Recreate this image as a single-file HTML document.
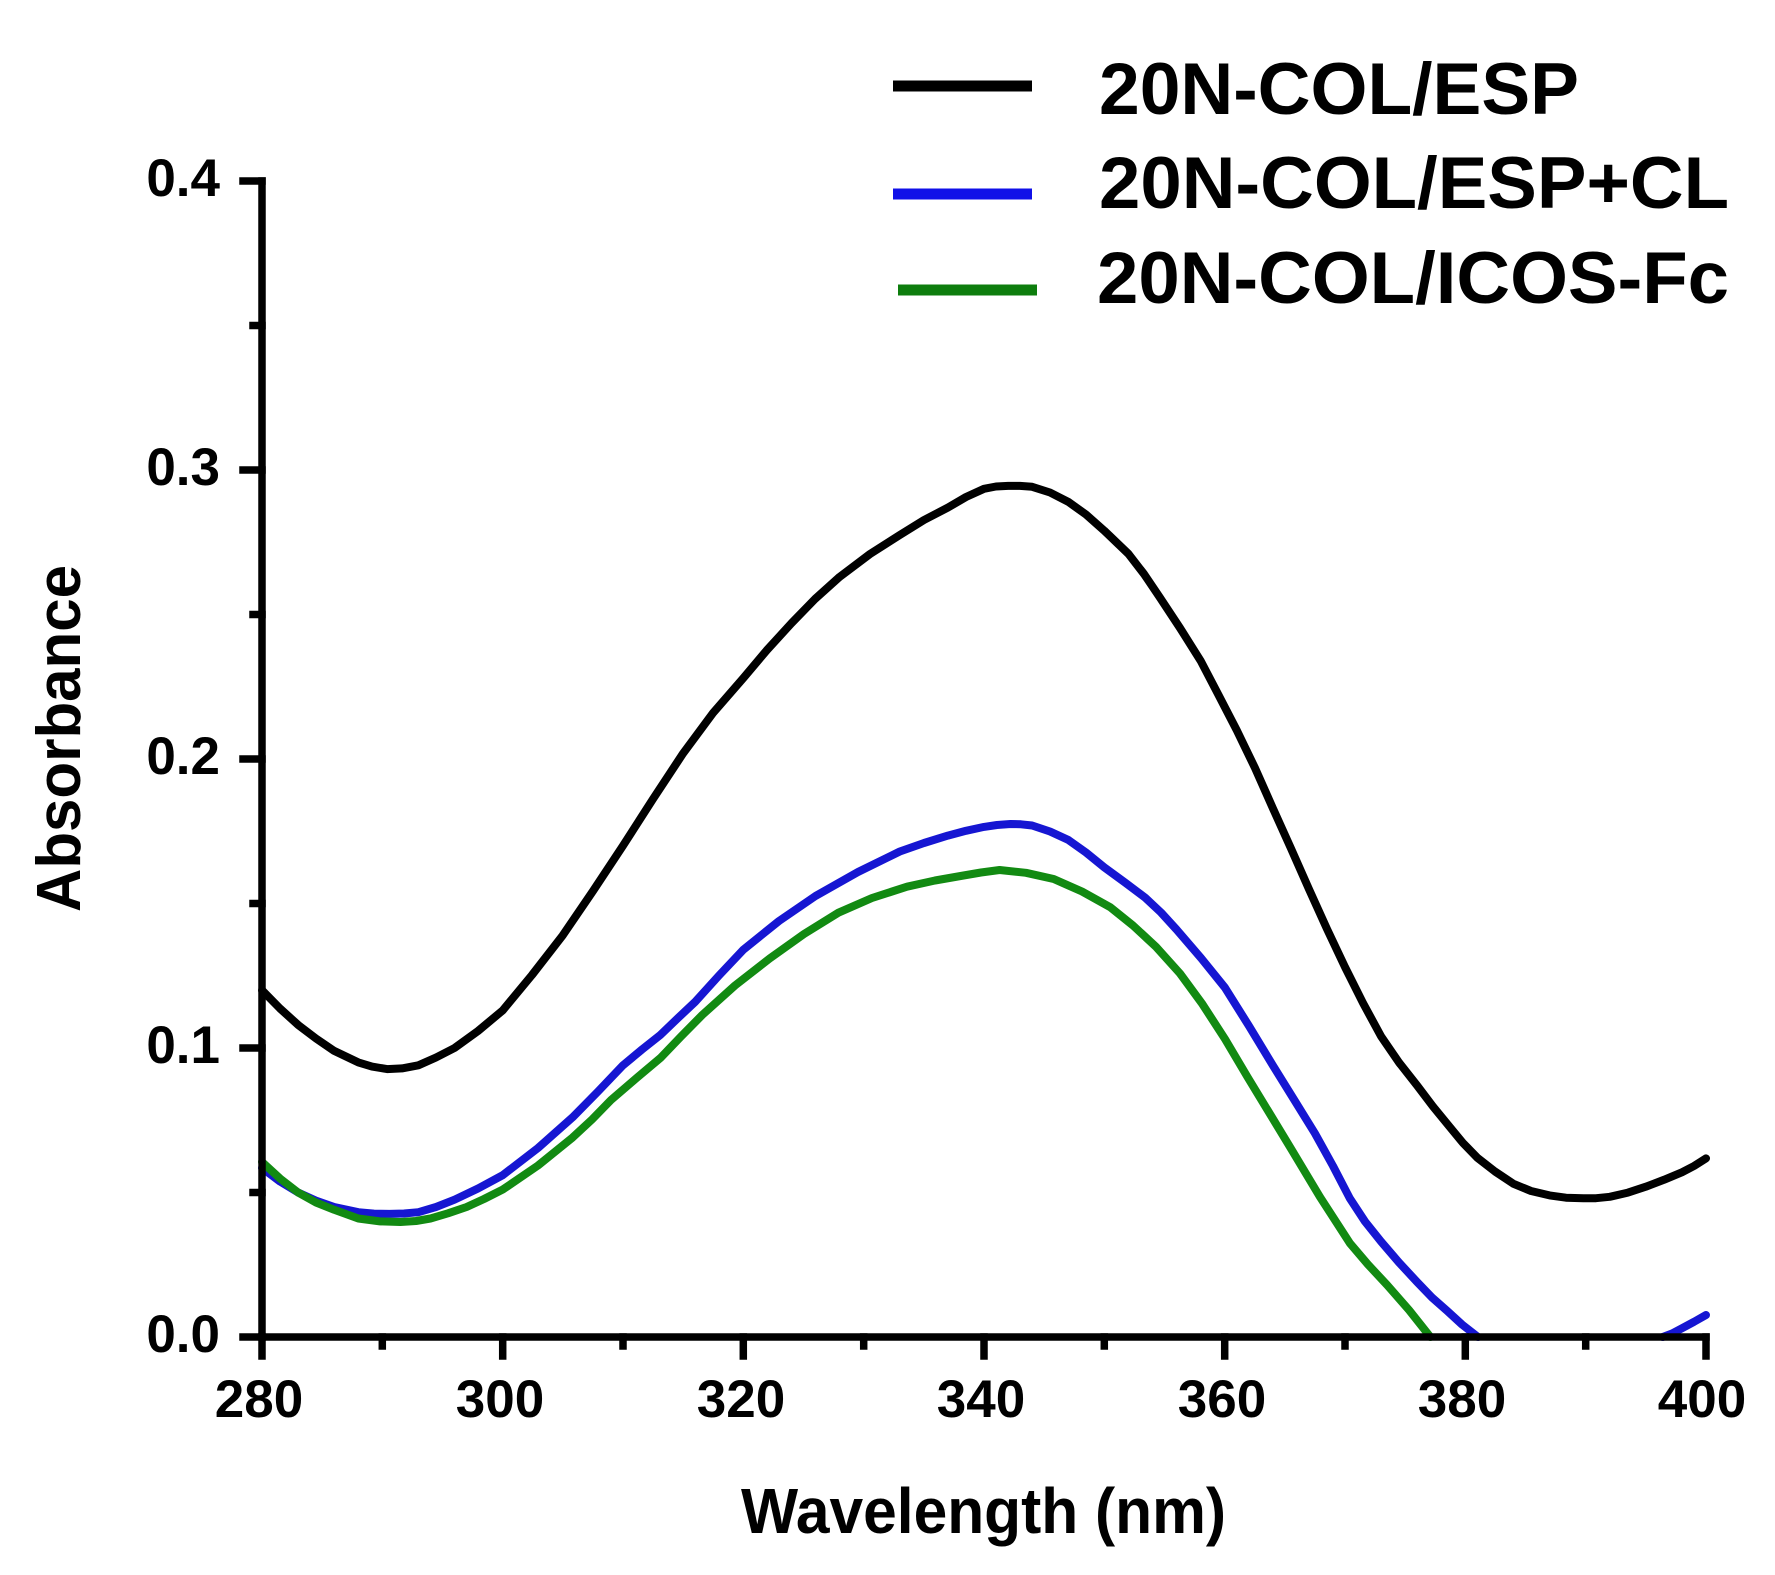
<!DOCTYPE html>
<html>
<head>
<meta charset="utf-8">
<style>
  html, body { margin: 0; padding: 0; background: #ffffff; }
  body { width: 1775px; height: 1575px; overflow: hidden; }
  svg { display: block; }
  text { font-family: "Liberation Sans", Arial, sans-serif; font-weight: bold; fill: #000; }
</style>
</head>
<body>
<svg width="1775" height="1575" viewBox="0 0 1775 1575" xmlns="http://www.w3.org/2000/svg">
  <rect x="0" y="0" width="1775" height="1575" fill="#ffffff"/>

  <!-- Curves -->
  <g fill="none" stroke-linejoin="round" stroke-linecap="round">
    <polyline stroke="#000000" stroke-width="8" points="
      262,990.2 280,1008.5 298.1,1024.9 316,1038.5 334.2,1050.9 358.3,1062.4 372,1066.6 387.1,1069.1 402,1068.4 418.4,1065.3 436,1057.5 454.5,1048
      478,1031 502.7,1010.4 532,975 562.8,935.3 593,891 623,845.7 653,799 683.2,753.2 713,713 743.3,678.1 767,650 791.5,623.2 815,599 839.6,576.9
      870,554 899.8,535 924,520 947.9,507.6 966,497 984,488.8 996,486.5 1008.1,485.9 1020,485.9 1032.1,486.8 1050,492.5 1068.2,501.8 1086,514.5 1104.3,530.7
      1128.4,553.8 1144,574 1159.7,597.2 1180,628 1200.6,660.7 1218,694 1236.7,730.1 1255,768 1272.8,808.1 1291,848.5 1308.9,889 1327,929 1345,967.1
      1363,1003 1381.1,1036.4 1399,1062.5 1417.2,1085.6 1433,1106.5 1449.7,1126.9 1463,1143 1477.4,1157.8 1495,1171.5 1513.5,1183.8 1531,1191 1549.6,1195.4
      1566,1197.7 1583.3,1198.3 1596,1198.2 1609.8,1196.8 1628,1192.6 1645.8,1186.7 1664,1179.8 1681.9,1172.3 1694,1166 1706,1158.4"/>
    <polyline stroke="#1616d2" stroke-width="8" points="
      262,1167.9 280,1181.5 298.1,1192.5 316,1200.6 334.2,1207 358.3,1212.2 374,1213.6 389.6,1213.9 404,1213.5 418.4,1212.2 436,1207 454.5,1199.7
      478,1188.5 502.7,1175.2 538,1148 572.5,1117.4 598,1091.5 623,1065.3 642,1049.5 660.3,1035 678,1018 695.2,1001.8 719,975.5 743.3,949.7 779,921 815.5,896
      858,872 899.8,851.5 924,843 947.9,835.6 966,830.8 984,826.9 997,825 1010.5,824 1021,824.3 1032.1,825.5 1050,831.5 1068.2,839.9 1086,852.5 1104.3,867.4
      1125,882.5 1145.2,897.7 1161,912.5 1176.5,929.5 1201,958 1224.7,987.3 1249,1026 1272.8,1065.3 1294,1099.5 1314.9,1133.3 1333,1166 1349.8,1198.3
      1365,1221.5 1381.1,1241.6 1399,1262.5 1417.2,1282.1 1432,1297.5 1447.3,1311 1462,1324.5 1478,1337"/>
    <polyline stroke="#1616d2" stroke-width="8" points="1662.7,1337 1672,1333.5 1681.9,1328.3 1694,1321.8 1706,1315"/>
    <polyline stroke="#128a12" stroke-width="8" points="
      262,1161.9 280,1178.5 298.1,1192.5 316,1202.5 334.2,1209.8 358.3,1218.5 380,1221.4 400.4,1222 416,1221 430.5,1218.5 448,1213.3 466.6,1207
      484,1199 502.7,1189.6 538,1165.5 572.5,1137.6 592,1119.5 611,1100 636,1078.5 660.3,1058.1 681,1036.5 702.4,1014.8 735,985.5 769.8,958.4 804,934 838.4,912.7
      872,898 907,886.7 935,880.5 963.5,875.5 981,872.5 999.6,870 1026,872.8 1053.7,879 1082,891.5 1110.3,907.3 1133,925.5 1156,946.8 1180,973.5 1201.8,1003.2
      1225,1039 1247.5,1077 1270,1114 1292,1150.3 1320,1197 1349.8,1243.1 1368,1264.5 1387.1,1285 1409,1310 1430.4,1337"/>
  </g>

  <!-- Axes -->
  <g stroke="#000" stroke-width="7.5" fill="none" stroke-linecap="square">
    <line x1="262" y1="181" x2="262" y2="1337"/>
    <line x1="262" y1="1337" x2="1706" y2="1337"/>
    <!-- y major ticks -->
    <line x1="243" y1="1337" x2="262" y2="1337"/>
    <line x1="243" y1="1048" x2="262" y2="1048"/>
    <line x1="243" y1="759" x2="262" y2="759"/>
    <line x1="243" y1="470" x2="262" y2="470"/>
    <line x1="243" y1="181" x2="262" y2="181"/>
    <!-- y minor ticks -->
    <line x1="253" y1="1192.5" x2="262" y2="1192.5"/>
    <line x1="253" y1="903.5" x2="262" y2="903.5"/>
    <line x1="253" y1="614.5" x2="262" y2="614.5"/>
    <line x1="253" y1="325.5" x2="262" y2="325.5"/>
    <!-- x major ticks -->
    <line x1="262" y1="1337" x2="262" y2="1356"/>
    <line x1="502.7" y1="1337" x2="502.7" y2="1356"/>
    <line x1="743.3" y1="1337" x2="743.3" y2="1356"/>
    <line x1="984" y1="1337" x2="984" y2="1356"/>
    <line x1="1224.7" y1="1337" x2="1224.7" y2="1356"/>
    <line x1="1465.3" y1="1337" x2="1465.3" y2="1356"/>
    <line x1="1706" y1="1337" x2="1706" y2="1356"/>
    <!-- x minor ticks -->
    <line x1="382.3" y1="1337" x2="382.3" y2="1346"/>
    <line x1="623" y1="1337" x2="623" y2="1346"/>
    <line x1="863.7" y1="1337" x2="863.7" y2="1346"/>
    <line x1="1104.3" y1="1337" x2="1104.3" y2="1346"/>
    <line x1="1345" y1="1337" x2="1345" y2="1346"/>
    <line x1="1585.7" y1="1337" x2="1585.7" y2="1346"/>
  </g>

  <!-- Y tick labels -->
  <g font-size="53" text-anchor="end">
    <text x="220" y="1352">0.0</text>
    <text x="220" y="1063">0.1</text>
    <text x="220" y="774">0.2</text>
    <text x="220" y="485">0.3</text>
    <text x="220" y="196">0.4</text>
  </g>

  <!-- X tick labels -->
  <g font-size="53" text-anchor="middle">
    <text x="259" y="1417">280</text>
    <text x="500" y="1417">300</text>
    <text x="741" y="1417">320</text>
    <text x="981" y="1417">340</text>
    <text x="1222" y="1417">360</text>
    <text x="1462" y="1417">380</text>
    <text x="1702" y="1417">400</text>
  </g>

  <!-- Axis titles -->
  <text x="741" y="1533" font-size="64" textLength="485" lengthAdjust="spacingAndGlyphs">Wavelength (nm)</text>
  <text transform="translate(80,912) rotate(-90)" x="0" y="0" font-size="62" textLength="347" lengthAdjust="spacingAndGlyphs">Absorbance</text>

  <!-- Legend -->
  <rect x="893" y="80.5" width="139" height="11" fill="#000000"/>
  <rect x="893" y="188.5" width="139" height="11" fill="#1010e8"/>
  <rect x="898" y="284.5" width="139" height="11" fill="#0d7d0d"/>
  <text x="1099" y="114" font-size="73" textLength="480" lengthAdjust="spacingAndGlyphs">20N-COL/ESP</text>
  <text x="1099" y="208" font-size="73" textLength="630" lengthAdjust="spacingAndGlyphs">20N-COL/ESP+CL</text>
  <text x="1097" y="303" font-size="73" textLength="632" lengthAdjust="spacingAndGlyphs">20N-COL/ICOS-Fc</text>
</svg>
</body>
</html>
